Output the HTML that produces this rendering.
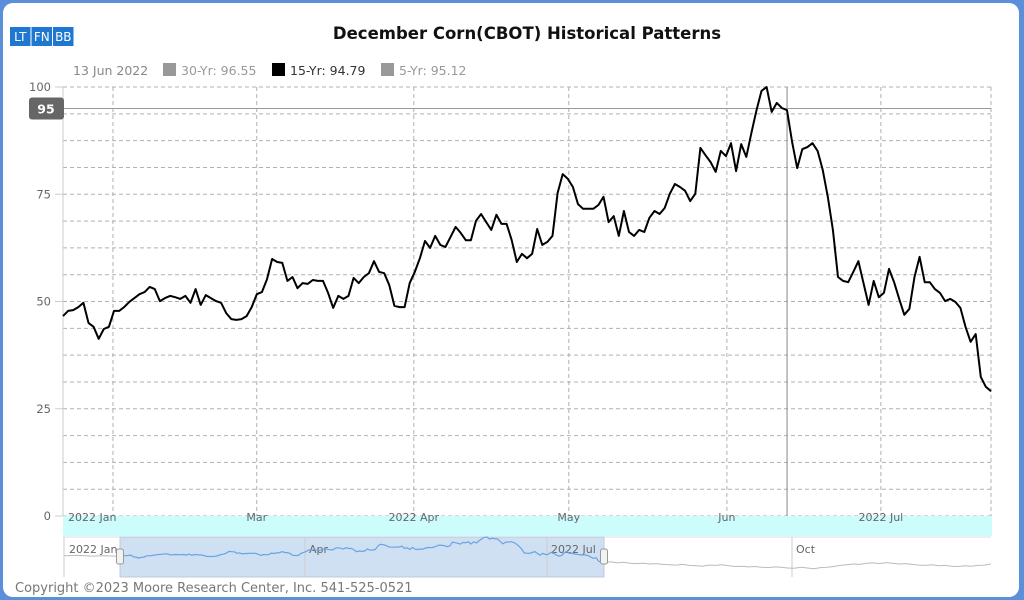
<!DOCTYPE html>
<html><head><meta charset="utf-8"><style>
html,body{margin:0;padding:0;background:#5b8fd9;}
#frame{position:absolute;left:0;top:0;width:1024px;height:600px;background:#5b8fd9;}
#inner{position:absolute;left:3px;top:3px;width:1016px;height:594px;background:#fff;border-radius:10px;}
svg{position:absolute;left:0;top:0;}
text{font-family:"DejaVu Sans","Liberation Sans",sans-serif;}
</style></head><body>
<div id="frame"><div id="inner"></div></div>
<svg id="chart" width="1024" height="600"></svg>
<script>
const values15 = [46.6,47.8,48.0,48.7,49.7,45.0,44.1,41.3,43.6,44.1,47.8,47.8,48.7,49.9,50.8,51.7,52.2,53.4,52.9,50.1,50.8,51.3,51.0,50.6,51.3,49.7,52.9,49.2,51.5,50.8,50.1,49.7,47.3,45.9,45.7,45.9,46.6,48.7,51.7,52.2,55.2,59.9,59.2,59.0,54.8,55.7,53.1,54.3,54.1,55.0,54.8,54.8,52.0,48.5,51.3,50.6,51.3,55.5,54.3,55.7,56.6,59.4,56.9,56.6,53.8,49.0,48.7,48.7,54.3,56.9,60.1,64.1,62.5,65.3,63.2,62.7,65.0,67.4,66.0,64.3,64.3,68.8,70.4,68.5,66.7,70.2,68.1,68.1,64.3,59.2,61.1,60.1,61.1,66.9,63.2,63.9,65.3,75.3,79.7,78.6,76.7,72.7,71.6,71.6,71.6,72.5,74.4,68.5,69.9,65.3,71.1,66.2,65.3,66.7,66.2,69.5,71.1,70.4,71.8,75.1,77.4,76.7,75.8,73.4,75.1,85.8,84.1,82.5,80.2,85.1,83.9,86.9,80.4,86.7,83.7,89.3,94.6,99.1,100.0,94.2,96.3,95.1,94.6,87.2,81.1,85.5,86.0,86.9,85.1,80.7,74.4,66.7,55.7,54.8,54.5,56.9,59.4,54.3,49.2,54.8,51.0,52.0,57.6,54.5,50.6,46.9,48.3,55.7,60.4,54.5,54.5,52.9,52.0,50.1,50.6,49.9,48.5,44.1,40.6,42.4,32.4,30.1,29.1];
const navBefore = [48,49,47,48,46];
const navAfter = [29,31,28,30,27,26,27,25,26,24,23,22,24,21,20,19,22,21,23,20,18,19,17,18,16,15,17,16,14,13,16,14,12,15,16,18,21,23,25,24,27,28,26,29,27,25,26,24,22,21,23,20,21,19,18,20,19,21,22,25];
const yTicks = [0,25,50,75,100];
const xLabels = ["2022 Jan","Mar","2022 Apr","May","Jun","2022 Jul"];
const xLabelDays = [10,38,69,99,130,160];
const xGridDays = [9.8,38,68.8,99.2,130.2,160.4];
const cursorIndex = 142;
const cursorValue = 95;

const NS="http://www.w3.org/2000/svg";
const svg=document.getElementById('chart');
const L=63,R=991,T=87,B=516;
const n=values15.length;
const xs=i=>L+i*(R-L)/(n-1);
const ys=v=>B-(v/100)*(B-T);
function el(tag,attrs,parent){const e=document.createElementNS(NS,tag);for(const k in attrs)e.setAttribute(k,attrs[k]);(parent||svg).appendChild(e);return e;}
function txt(s,attrs){const t=el('text',attrs);t.textContent=s;return t;}

// title & buttons
const btns=["LT","FN","BB"];
btns.forEach((b,i)=>{
  const r=el('rect',{x:10+i*21.5,y:27,width:20.5,height:19,fill:'#1e78d2'});
  
  
  const t=txt(b,{x:20.3+i*21.5,y:41,'font-size':12,fill:'#fff','text-anchor':'middle'});
  
  
});
let t=txt("December Corn(CBOT) Historical Patterns",{x:527,y:39,'font-size':16.5,'font-weight':'bold','text-anchor':'middle',fill:'#111'});


// legend
t=txt("13 Jun 2022",{x:73,y:75,'font-size':12.5,fill:'#888'});

const leg=[["30-Yr: 96.55",163,'#999','#999'],["15-Yr: 94.79",272,'#000','#333'],["5-Yr: 95.12",381,'#999','#999']];
leg.forEach(l=>{
  const r=el('rect',{x:l[1],y:63,width:13,height:13,fill:l[2]});
  
  const tt=txt(l[0],{x:l[1]+18,y:75,'font-size':12.5,fill:l[3]});
  
});

// horizontal grid
for(let k=0;k<=16;k++){
  const y=ys(k*6.25);
  const g=el('line',{x1:L,x2:R,y1:y,y2:y,stroke:'#b0b0b0','stroke-dasharray':'4,3','stroke-width':1});
  
}
// vertical grid
xGridDays.forEach(d=>{
  const x=xs(d);
  const g=el('line',{x1:x,x2:x,y1:T,y2:B,stroke:'#b0b0b0','stroke-dasharray':'4,3'});
  
});
let g=el('line',{x1:R,x2:R,y1:T,y2:B,stroke:'#b0b0b0','stroke-dasharray':'4,3'});

g=el('line',{x1:L,x2:L,y1:T,y2:B,stroke:'#ccc'});


// y labels
yTicks.forEach(v=>{
  const tt=txt(String(v),{x:51,y:ys(v)+4,'font-size':11.5,fill:'#666','text-anchor':'end'});
  
  const tk=el('line',{x1:55,x2:L,y1:ys(v),y2:ys(v),stroke:'#ccc'});
  
});

// cyan band
g=el('rect',{x:L,y:B,width:R-L+1,height:20,fill:'#ccfcfc'});

xLabels.forEach((s,i)=>{
  const tt=txt(s,{x:xs(xLabelDays[i])-44+ (i===0?49:0),y:521,'font-size':11,fill:'#666'});
  if(i!==0){tt.setAttribute('x',xs(xGridDays[i]));tt.setAttribute('text-anchor','middle');}
  else{tt.setAttribute('x',68);}
  
});

// crosshair
const cx=xs(cursorIndex);
g=el('line',{x1:cx,x2:cx,y1:T,y2:B,stroke:'#888'});

g=el('line',{x1:L,x2:R,y1:ys(cursorValue),y2:ys(cursorValue),stroke:'#999'});

g=el('rect',{x:29,y:ys(cursorValue)-11,width:35,height:22,rx:3,fill:'#666'});

t=txt(String(cursorValue),{x:46,y:ys(cursorValue)+5,'font-size':12.5,'font-weight':'bold',fill:'#fff','text-anchor':'middle'});


// main line
let d=values15.map((v,i)=>(i?'L':'M')+xs(i).toFixed(1)+','+ys(v).toFixed(1)).join(' ');
g=el('path',{d:d,fill:'none',stroke:'#000','stroke-width':2,'stroke-linejoin':'round'});


// navigator
const NT=537,NB=577,SelL=120,SelR=604;
g=el('line',{x1:L,x2:R,y1:NT,y2:NT,stroke:'#ddd'});

g=el('rect',{x:SelL,y:NT,width:SelR-SelL,height:NB-NT,fill:'#cfe0f3',stroke:'#c0c8d8'});

[[305,'Apr'],[547,'2022 Jul'],[792,'Oct']].forEach(a=>{
  const ln=el('line',{x1:a[0],x2:a[0],y1:NT,y2:NB,stroke:'#ccc'});
  
  const tt=txt(a[1],{x:a[0]+4,y:553,'font-size':11,fill:'#666'});
  
});
t=txt("2022 Jan",{x:69,y:553,'font-size':11,fill:'#666'});

g=el('line',{x1:64,x2:64,y1:NT,y2:NB,stroke:'#ccc'});

const ny=v=>NB-4-(v/100)*36;
// before
let pb=navBefore.map((v,i)=>(i?'L':'M')+(64+i*(SelL-64)/(navBefore.length-1)).toFixed(1)+','+ny(v).toFixed(1)).join(' ');
g=el('path',{d:pb,fill:'none',stroke:'#bbb'});

let pm=values15.map((v,i)=>(i?'L':'M')+(SelL+i*(SelR-SelL)/(n-1)).toFixed(1)+','+ny(v).toFixed(1)).join(' ');
g=el('path',{d:pm,fill:'none',stroke:'#6aa3e0','stroke-width':1.2});

let pa=navAfter.map((v,i)=>(i?'L':'M')+(SelR+i*(R-SelR)/(navAfter.length-1)).toFixed(1)+','+ny(v).toFixed(1)).join(' ');
g=el('path',{d:pa,fill:'none',stroke:'#bbb'});

[SelL,SelR].forEach((x,i)=>{
  const h=el('rect',{x:x-3.5,y:549,width:7,height:15,rx:2,fill:'#f2f2f2',stroke:'#999'});
  
  
});
t=txt("Copyright ©2023 Moore Research Center, Inc. 541-525-0521",{x:15,y:592,'font-size':13,fill:'#777'});

</script>
</body></html>
